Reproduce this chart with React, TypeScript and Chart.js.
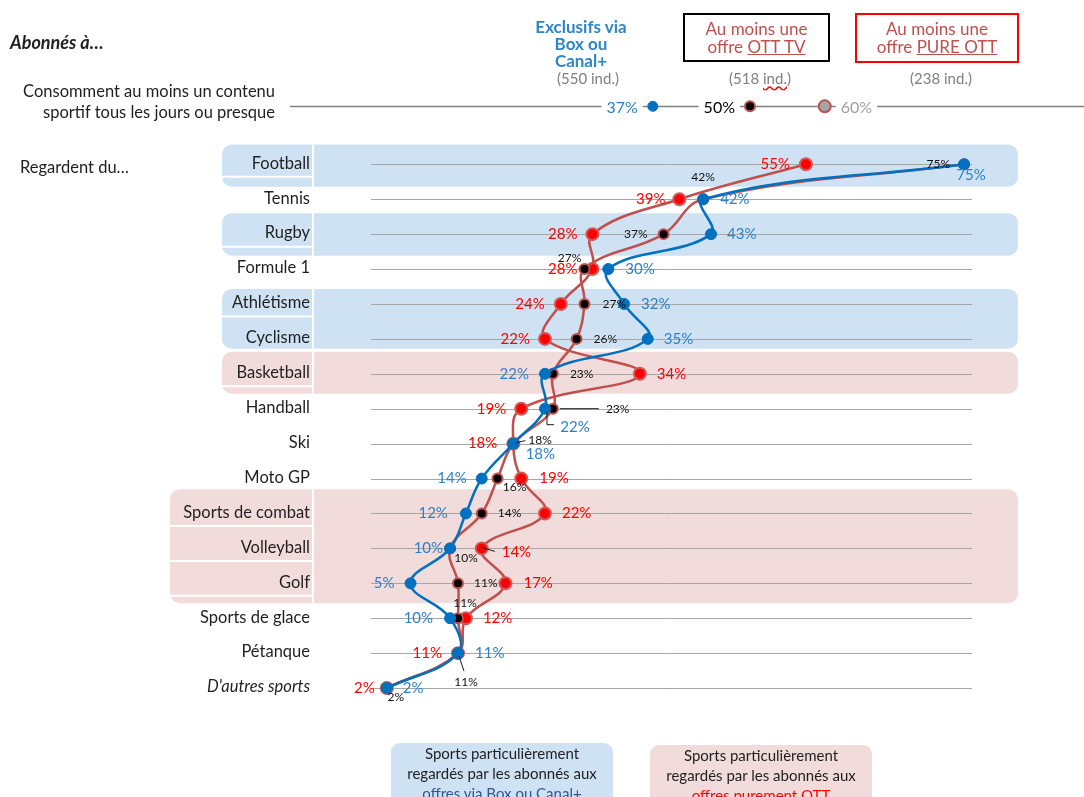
import React, { useEffect, useRef } from 'react';
import { Chart, registerables } from 'chart.js';

Chart.register(...registerables);

// ---------- DATA ----------
const categories = [
  'Football', 'Tennis', 'Rugby', 'Formule 1', 'Athlétisme', 'Cyclisme', 'Basketball', 'Handball',
  'Ski', 'Moto GP', 'Sports de combat', 'Volleyball', 'Golf', 'Sports de glace', 'Pétanque', "D'autres sports",
];
const boxCanal = [75, 42, 43, 30, 32, 35, 22, 22, 18, 14, 12, 10, 5, 10, 11, 2];
const ottTv = [75, 42, 37, 27, 27, 26, 23, 23, 18, 16, 14, 10, 11, 11, 11, 2];
const pureOtt = [55, 39, 28, 28, 24, 22, 34, 19, 18, 19, 22, 14, 17, 12, 11, 2];
const dailyConsumption = [37, 50, 60];
const panelSizes = [550, 518, 238];
const blueBandRows = [[0, 0], [2, 2], [4, 5]];
const pinkBandRows = [[6, 6], [10, 12]];

// ---------- STYLE ----------
const FONT = 'Lato, "Noto Sans", sans-serif';
const BLUE = '#0070C0';
const BLUE_TEXT = '#2E80C6';
const BROWN = '#C0504D';
const RED = '#FF0000';
const BAND_BLUE = '#CFE2F3';
const BAND_PINK = '#F2DCDB';
const HEADER_ROW = -1.66;
const BAND_RIGHT = 1018;
const LABEL_COL_RIGHT = 313;

type Place = [string, number, number, number[][]?];

const bandStyles = [
  { rows: blueBandRows[0], color: BAND_BLUE, top: -0.57, bottom: 0.64, left: 222 },
  { rows: blueBandRows[1], color: BAND_BLUE, top: -0.6, bottom: 0.62, left: 222 },
  { rows: blueBandRows[2], color: BAND_BLUE, top: -0.43, bottom: 0.28, left: 222 },
  { rows: pinkBandRows[0], color: BAND_PINK, top: -0.63, bottom: 0.57, left: 222 },
  { rows: pinkBandRows[1], color: BAND_PINK, top: -0.69, bottom: 0.57, left: 170 },
];

const bluePlaces: Place[] = [
  ['c', 7, 11], ['r', 17, 0], ['r', 16, 0], ['r', 17, 0], ['r', 17, 0], ['r', 16, 0],
  ['l', -16, 0], ['c', 30, 18, [[2, 3], [2, 16], [9, 16]]], ['c', 27, 11], ['l', -15, 0],
  ['l', -18, 0], ['l', -7, 0], ['l', -16, 0], ['l', -17, 0], ['r', 17, 0], ['r', 16, 0],
];
const redPlaces: Place[] = [
  ['l', -16, 0], ['l', -14, 0], ['l', -15, 0], ['l', -15, 0], ['l', -16, 0], ['l', -15, 0],
  ['r', 17, 0], ['l', -15, 0], ['l', -16, 0], ['r', 18, 0], ['r', 17, 0],
  ['r', 20, 4, [[0, -1], [13, 3]]], ['r', 18, 0], ['r', 17, 0], ['l', -16, 0], ['l', -12, 0],
];
const blackPlaces: Place[] = [
  ['l', -14, 0], ['c', 0, -22], ['l', -16, 0], ['c', -15, -11], ['r', 18, 0], ['r', 17, 0],
  ['r', 17, 0], ['r', 53, 0, [[7, 0], [46, 0]]], ['r', 15, -4, [[3, -1], [12, -3]]], ['c', 17, 9],
  ['r', 16, 0], ['c', 16, 10], ['r', 16, 0], ['c', 7, -15], ['c', 8, 29, [[1, 3], [6, 18]]], ['c', 9, 9],
];

function drawPointLabels(ctx: CanvasRenderingContext2D, chart: any, values: number[], places: Place[], color: string, font: string) {
  const xs = chart.scales.x;
  const ys = chart.scales.y;
  ctx.font = font;
  ctx.textBaseline = 'middle';
  values.forEach((v, i) => {
    const px = xs.getPixelForValue(v);
    const py = ys.getPixelForValue(i);
    const [align, dx, dy, leader] = places[i];
    if (leader) {
      ctx.strokeStyle = '#1a1a1a';
      ctx.lineWidth = 1;
      ctx.beginPath();
      leader.forEach((p, k) => {
        if (k === 0) ctx.moveTo(px + p[0], py + p[1]);
        else ctx.lineTo(px + p[0], py + p[1]);
      });
      ctx.stroke();
    }
    ctx.fillStyle = color;
    ctx.textAlign = align === 'l' ? 'right' : align === 'r' ? 'left' : 'center';
    ctx.fillText(v + '%', px + dx, py + dy);
  });
}

const decorPlugin = {
  id: 'decor',
  beforeDatasetsDraw(chart: any) {
    const ctx: CanvasRenderingContext2D = chart.ctx;
    const xs = chart.scales.x;
    const ys = chart.scales.y;
    const x2 = chart.scales.x2;
    ctx.save();
    // bands
    bandStyles.forEach((b) => {
      const top = ys.getPixelForValue(b.rows[0] + b.top);
      const bot = ys.getPixelForValue(b.rows[1] + b.bottom);
      ctx.fillStyle = b.color;
      ctx.beginPath();
      (ctx as any).roundRect(b.left, top, BAND_RIGHT - b.left, bot - top, 10);
      ctx.fill();
      ctx.strokeStyle = '#ffffff';
      ctx.lineWidth = 2;
      for (let r = b.rows[0]; r <= b.rows[1]; r++) {
        const yy = ys.getPixelForValue(r + 0.36);
        if (yy < bot - 3) {
          ctx.beginPath();
          ctx.moveTo(b.left, yy);
          ctx.lineTo(LABEL_COL_RIGHT, yy);
          ctx.stroke();
        }
      }
      ctx.beginPath();
      ctx.moveTo(LABEL_COL_RIGHT, top);
      ctx.lineTo(LABEL_COL_RIGHT, bot);
      ctx.stroke();
    });
    // grid lines
    ctx.strokeStyle = '#A6A6A6';
    ctx.lineWidth = 1;
    categories.forEach((_, i) => {
      const yy = Math.round(ys.getPixelForValue(i)) + 0.5;
      ctx.beginPath();
      ctx.moveTo(xs.left, yy);
      ctx.lineTo(xs.right, yy);
      ctx.stroke();
    });
    // category labels
    ctx.fillStyle = '#1F1F1F';
    ctx.textAlign = 'right';
    ctx.textBaseline = 'middle';
    categories.forEach((c, i) => {
      ctx.font = (i === categories.length - 1 ? 'italic ' : '') + '16.5px ' + FONT;
      ctx.fillText(c, 310, ys.getPixelForValue(i) - 1);
    });
    // header row line
    const hy = Math.round(ys.getPixelForValue(HEADER_ROW)) + 0.5;
    ctx.strokeStyle = '#7F7F7F';
    ctx.lineWidth = 1.5;
    ctx.beginPath();
    ctx.moveTo(290, hy);
    ctx.lineTo(chart.width, hy);
    ctx.stroke();
    ctx.font = '16px ' + FONT;
    const hColors = [BLUE_TEXT, '#000000', '#A0A0A0'];
    dailyConsumption.forEach((v, i) => {
      const px = x2.getPixelForValue(v);
      const txt = v + '%';
      const w = ctx.measureText(txt).width;
      const left = i < 2 ? px - 15 - w : px + 16;
      ctx.fillStyle = '#ffffff';
      ctx.fillRect(left - 5, hy - 9, w + 10, 18);
      ctx.fillStyle = hColors[i];
      ctx.textAlign = 'left';
      ctx.fillText(txt, left, hy + 1);
    });
    ctx.restore();
  },
  afterDatasetsDraw(chart: any) {
    const ctx: CanvasRenderingContext2D = chart.ctx;
    ctx.save();
    drawPointLabels(ctx, chart, pureOtt, redPlaces, RED, '15px ' + FONT);
    drawPointLabels(ctx, chart, ottTv, blackPlaces, '#111111', '12px ' + FONT);
    drawPointLabels(ctx, chart, boxCanal, bluePlaces, BLUE_TEXT, '15px ' + FONT);
    ctx.restore();
  },
};

const toPoints = (vals: number[]) => vals.map((v, i) => ({ x: v, y: i }));

export default function App() {
  const ref = useRef<HTMLCanvasElement>(null);
  useEffect(() => {
    if (!ref.current) return;
    const chart = new Chart(ref.current, {
      type: 'scatter',
      data: {
        datasets: [
          {
            label: 'Exclusifs via Box ou Canal+',
            data: toPoints(boxCanal),
            showLine: true,
            tension: 0.4,
            borderColor: BLUE,
            borderWidth: 2.5,
            pointRadius: 5.5,
            pointBackgroundColor: BLUE,
            pointBorderColor: BLUE,
            pointBorderWidth: 1,
            clip: false,
          },
          {
            label: 'Au moins une offre OTT TV',
            data: toPoints(ottTv),
            showLine: true,
            tension: 0.4,
            borderColor: BROWN,
            borderWidth: 2.5,
            pointRadius: 5,
            pointBackgroundColor: '#000000',
            pointBorderColor: BROWN,
            pointBorderWidth: 2,
            clip: false,
          },
          {
            label: 'Au moins une offre PURE OTT',
            data: toPoints(pureOtt),
            showLine: true,
            tension: 0.4,
            borderColor: BROWN,
            borderWidth: 2.5,
            pointRadius: 6,
            pointBackgroundColor: RED,
            pointBorderColor: '#D05A5A',
            pointBorderWidth: 2,
            clip: false,
          },
          {
            label: 'Consomment au moins un contenu sportif tous les jours ou presque',
            data: dailyConsumption.map((v) => ({ x: v, y: HEADER_ROW })),
            xAxisID: 'x2',
            showLine: false,
            pointRadius: [5, 5, 6],
            pointBackgroundColor: [BLUE, '#000000', '#A5A5A5'],
            pointBorderColor: [BLUE, BROWN, BROWN],
            pointBorderWidth: [1, 2, 2],
            clip: false,
          },
        ] as any,
      },
      options: {
        responsive: false,
        animation: false,
        events: [],
        layout: { padding: { left: 371, right: 112, top: 77, bottom: 88 } },
        scales: {
          x: { type: 'linear', min: 0, max: 76, display: false },
          x2: { type: 'linear', min: -0.7, max: 79.7, display: false },
          y: { type: 'linear', min: -2.5, max: 15.6, reverse: true, display: false },
        },
        plugins: { legend: { display: false }, tooltip: { enabled: false } },
      } as any,
      plugins: [decorPlugin],
    });
    return () => chart.destroy();
  }, []);

  const gray = { position: 'absolute' as const, color: '#7F7F7F', fontSize: 15, textAlign: 'center' as const, width: 120, lineHeight: '16px' };
  const boxText = { color: BROWN, fontSize: 17, lineHeight: '18px', textAlign: 'center' as const };

  return (
    <div style={{ position: 'fixed', left: 0, top: 0, width: 1084, height: 797, overflow: 'hidden', background: '#fff', fontFamily: FONT, color: '#1F1F1F' }}>
      <canvas ref={ref} width={1084} height={797} style={{ position: 'absolute', left: 0, top: 0 }} />
      <div style={{ position: 'absolute', left: 10, top: 31, fontSize: 18, fontWeight: 700, fontStyle: 'italic' }}>Abonnés à…</div>
      <div style={{ position: 'absolute', left: 516, top: 18, width: 130, textAlign: 'center', fontSize: 17, fontWeight: 700, lineHeight: '17px', color: '#2E86C8' }}>
        Exclusifs via<br />Box ou<br />Canal+
      </div>
      <div style={{ ...gray, left: 528, top: 70 }}>({panelSizes[0]} ind.)</div>
      <div style={{ position: 'absolute', left: 683, top: 13, width: 143, height: 45, border: '2px solid #000', display: 'flex', alignItems: 'center', justifyContent: 'center' }}>
        <div style={boxText}>Au moins une<br />offre <span style={{ textDecoration: 'underline' }}>OTT TV</span></div>
      </div>
      <div style={{ ...gray, left: 700, top: 70 }}>({panelSizes[1]} <span style={{ textDecoration: 'underline wavy red' }}>ind.</span>)</div>
      <div style={{ position: 'absolute', left: 855, top: 13, width: 160, height: 46, border: '2px solid #FF0000', display: 'flex', alignItems: 'center', justifyContent: 'center' }}>
        <div style={boxText}>Au moins une<br />offre <span style={{ textDecoration: 'underline' }}>PURE OTT</span></div>
      </div>
      <div style={{ ...gray, left: 881, top: 70 }}>({panelSizes[2]} ind.)</div>
      <div style={{ position: 'absolute', right: 1084 - 275, top: 81, fontSize: 16.5, lineHeight: '21px', textAlign: 'right', whiteSpace: 'nowrap' }}>
        Consomment au moins un contenu<br />sportif tous les jours ou presque
      </div>
      <div style={{ position: 'absolute', left: 20, top: 157, fontSize: 16.5 }}>Regardent du…</div>
      <div style={{ position: 'absolute', left: 391, top: 743, width: 222, height: 80, borderRadius: 9, background: BAND_BLUE, textAlign: 'center', fontSize: 15, lineHeight: '20px' }}>
        Sports particulièrement<br />regardés par les abonnés aux<br /><span style={{ color: '#2F5597' }}>offres via Box ou Canal+</span>
      </div>
      <div style={{ position: 'absolute', left: 650, top: 745, width: 222, height: 80, borderRadius: 9, background: BAND_PINK, textAlign: 'center', fontSize: 15, lineHeight: '20px' }}>
        Sports particulièrement<br />regardés par les abonnés aux<br /><span style={{ color: RED }}>offres purement OTT</span>
      </div>
    </div>
  );
}
